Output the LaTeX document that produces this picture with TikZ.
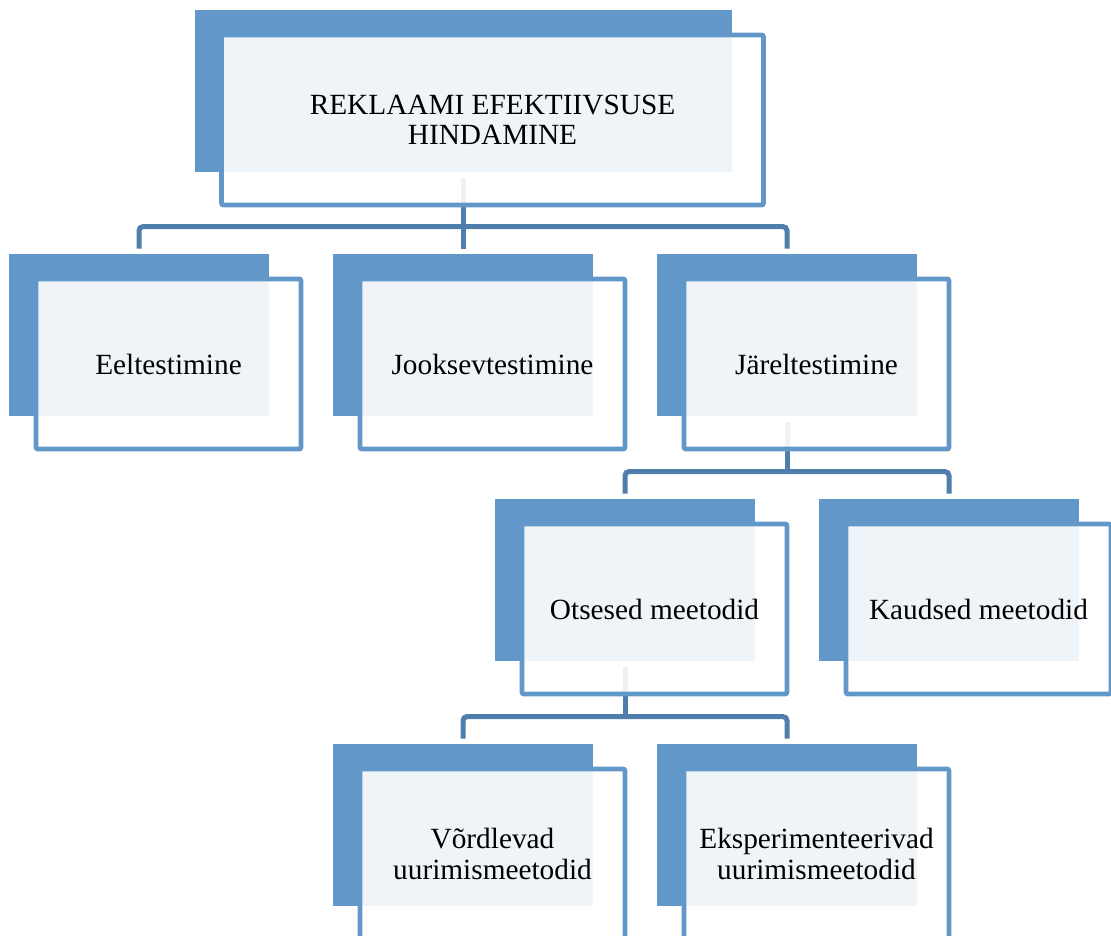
\documentclass[tikz,border=0pt]{standalone}
\usepackage{fontspec}
\setmainfont{Liberation Serif}
\definecolor{tileblue}{RGB}{98,151,202}
\definecolor{linkblue}{RGB}{80,126,172}
\usetikzlibrary{backgrounds}
\tikzset{
  tileback/.style={rectangle,fill=tileblue,draw=none,
                   minimum height=81pt,inner sep=0pt},
  tile/.style={rectangle,draw=tileblue,line width=2.4pt,fill=white,
               fill opacity=0.9,text opacity=1,rounded corners=1pt,
               minimum height=85pt,align=center,inner sep=2pt,
               font=\fontsize{14.65}{15.25}\selectfont},
  link/.style={draw=linkblue,line width=2.5pt},
}

\begin{document}
\begin{tikzpicture}[x=0.5pt,y=-0.5pt]
  \useasboundingbox (0,0) rectangle (1111,935);

  % boxes: back plate + framed front
  \foreach \n/\x/\y/\w/\t in {
      top/463/91/537/{REKLAAMI EFEKTIIVSUSE\\HINDAMINE},
      eel/139/335/260/Eeltestimine,
      jook/463/335/260/Jooksevtestimine,
      jarel/787/335/260/Järeltestimine,
      otse/625/580/260/Otsesed meetodid,
      kaud/949/580/260/Kaudsed meetodid,
      vord/463/825/260/{Võrdlevad\\uurimismeetodid},
      eksp/787/825/260/{Eksperimenteerivad\\uurimismeetodid}} {
    \node[tileback, minimum width={\w*0.5pt}] (\n-b) at (\x,\y) {};
    \node[tile, minimum width={(\w+5)*0.5pt}] (\n)
      at ([xshift=14.75pt,yshift=-14.5pt]\n-b.center) {\t};
  }

  % connectors behind the boxes
  \begin{scope}[on background layer]
    \foreach \p/\c in {top/eel, top/jook, top/jarel, jarel/otse,
                       jarel/kaud, otse/vord, otse/eksp} {
      \coordinate (\c-in) at ([yshift=13.5pt]\c-b.north);
      \draw[link] ([yshift=-3pt]\p-b.south) -- (\p-b.south |- \c-in);
      \draw[link, rounded corners=2pt] (\p-b.south |- \c-in)
        -| ([yshift=2.5pt]\c-b.north);
    }
  \end{scope}
\end{tikzpicture}
\end{document}
